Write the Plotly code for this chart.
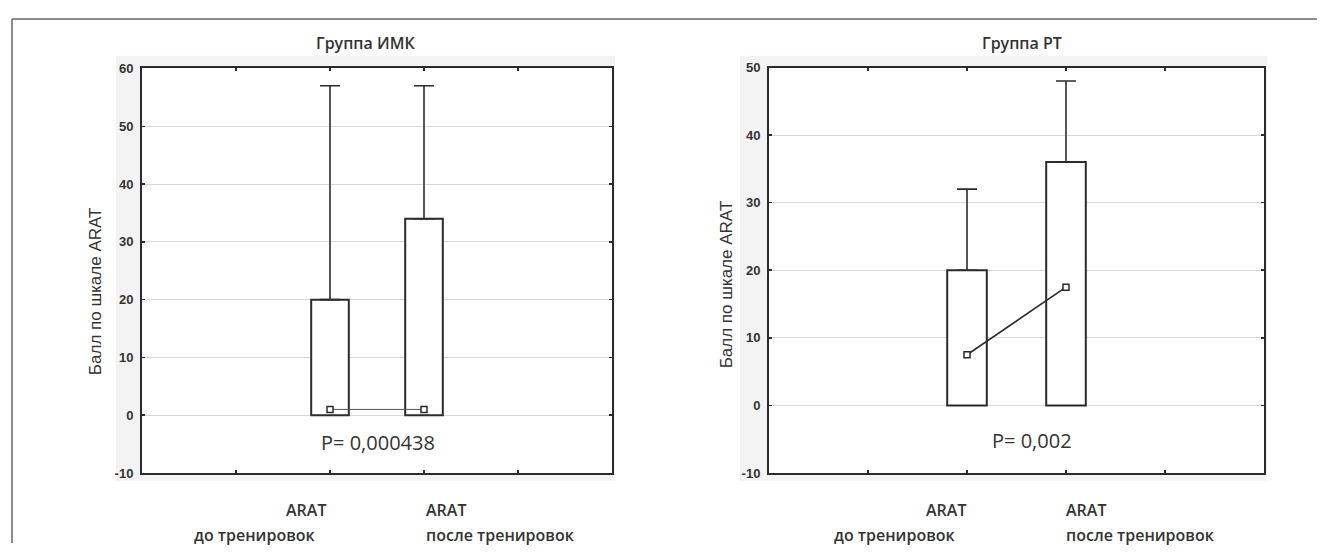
import plotly.graph_objects as go

# The page body keeps the browser's default 8px margin, so the figure is
# sized to fit the 1325x559 window inside it.
PAGE_W, PAGE_H, BODY_M = 1325, 559, 8
W, H = PAGE_W - 2 * BODY_M, PAGE_H - 2 * BODY_M

# ---- data ----
positions = [2, 3]          # category slots on a 0..5 axis
categories = ["ARAT до тренировок", "ARAT после тренировок"]
imk_q3 = [20, 34]
imk_max = [57, 57]
imk_median = [1, 1]
rt_q3 = [20, 36]
rt_max = [32, 48]
rt_median = [7.5, 17.5]
imk_yticks = [-10, 0, 10, 20, 30, 40, 50, 60]
rt_yticks = [-10, 0, 10, 20, 30, 40, 50]
titles = ["Группа ИМК", "Группа РТ"]
pvalues = ["P= 0,000438", "P= 0,002"]
ytitle = "Балл по шкале ARAT"

def px(x):
    return (x - BODY_M) / W

def py(y):
    return 1 - (y - BODY_M) / H

fig = go.Figure()
dark = "#2b2b2b"

def add_panel(xa, ya, q3, mx, med, line_col, line_w):
    fig.add_trace(go.Bar(
        x=positions, y=q3, base=[0, 0], width=0.4,
        marker=dict(color="white", line=dict(color=dark, width=2)),
        error_y=dict(type="data", symmetric=False,
                     array=[m - q for m, q in zip(mx, q3)],
                     arrayminus=[0, 0], color=dark, thickness=1.6, width=10),
        xaxis=xa, yaxis=ya, showlegend=False, hoverinfo="skip"))
    fig.add_trace(go.Scatter(
        x=positions, y=med, mode="lines+markers",
        line=dict(color=line_col, width=line_w),
        marker=dict(symbol="square", size=6, color="white",
                    line=dict(color=dark, width=1.5)),
        xaxis=xa, yaxis=ya, showlegend=False, hoverinfo="skip"))

add_panel("x", "y", imk_q3, imk_max, imk_median, "#555555", 1)
add_panel("x2", "y2", rt_q3, rt_max, rt_median, dark, 1.6)

xcommon = dict(range=[0, 5], tickvals=[1, 2, 3, 4], showticklabels=False,
               ticks="inside", ticklen=3, tickcolor=dark, tickwidth=1.5,
               showline=True, linecolor=dark, linewidth=2, mirror="ticks",
               showgrid=False, zeroline=False, fixedrange=True)
ycommon = dict(ticks="inside", ticklen=3, tickcolor=dark, tickwidth=1.5,
               showline=True, linecolor=dark, linewidth=2, mirror="ticks",
               showgrid=True, gridcolor="#d8d8d8", gridwidth=1, zeroline=False,
               tickfont=dict(family="Liberation Sans, Arial", size=13, color="#333333", weight="bold"),
               ticklabelstandoff=4, fixedrange=True)

fig.update_layout(
    width=W, height=H,
    margin=dict(l=0, r=0, t=0, b=0),
    paper_bgcolor="white", plot_bgcolor="white",
    bargap=0,
    xaxis=dict(domain=[px(142), px(612)], anchor="y", **xcommon),
    yaxis=dict(domain=[py(479), py(63)], anchor="x", range=[-10, 60],
               tickvals=imk_yticks, ticktext=[str(v) for v in imk_yticks], **ycommon),
    xaxis2=dict(domain=[px(769), px(1264)], anchor="y2", **xcommon),
    yaxis2=dict(domain=[py(479), py(62)], anchor="x2", range=[-10, 50],
                tickvals=rt_yticks, ticktext=[str(v) for v in rt_yticks], **ycommon),
)

shapes = [
    dict(type="rect", xref="paper", yref="paper", x0=px(116), x1=px(615), y0=py(487), y1=py(50),
         fillcolor="#f3f3f3", line=dict(width=0), layer="below"),
    dict(type="rect", xref="paper", yref="paper", x0=px(740), x1=px(1267), y0=py(487), y1=py(50),
         fillcolor="#f3f3f3", line=dict(width=0), layer="below"),
    dict(type="rect", xref="paper", yref="paper", x0=px(142), x1=px(612), y0=py(479), y1=py(63),
         fillcolor="white", line=dict(width=0), layer="below"),
    dict(type="rect", xref="paper", yref="paper", x0=px(769), x1=px(1264), y0=py(479), y1=py(62),
         fillcolor="white", line=dict(width=0), layer="below"),
    dict(type="line", xref="paper", yref="paper", x0=px(12), x1=1, y0=py(12), y1=py(12),
         line=dict(color="#666666", width=1.5)),
    dict(type="line", xref="paper", yref="paper", x0=px(12), x1=px(12), y0=py(12), y1=0,
         line=dict(color="#666666", width=1.5)),
]
fig.update_layout(shapes=shapes)

lab_font = dict(family="Open Sans", size=16, color="#333333", weight=600)
ann = []
def txt(x, y, s, font, xanchor="center", textangle=0):
    ann.append(dict(xref="paper", yref="paper", x=px(x), y=py(y), text=s,
                    showarrow=False, xanchor=xanchor, yanchor="middle",
                    font=font, textangle=textangle))

title_font = dict(family="Open Sans", size=16, color="#333333", weight=600)
txt(365, 37, titles[0], title_font)
txt(1022, 37, titles[1], title_font)

p_font = dict(family="Open Sans", size=20, color="#333333")
txt(378, 448, pvalues[0], p_font)
txt(1032, 446, pvalues[1], p_font)

yt_font = dict(family="Liberation Sans, Arial", size=17, color="#333333")
txt(95, 292, ytitle, yt_font, textangle=-90)
txt(726, 285, ytitle, yt_font, textangle=-90)

# x category labels
for r_arat, r_do, l_after in [(328, 317, 424), (968, 957, 1064)]:
    txt(r_arat, 517, categories[0].split(" ", 1)[0], lab_font, xanchor="right")
    txt(r_do, 543, categories[0].split(" ", 1)[1], lab_font, xanchor="right")
    txt(l_after, 517, categories[1].split(" ", 1)[0], lab_font, xanchor="left")
    txt(l_after, 543, categories[1].split(" ", 1)[1], lab_font, xanchor="left")

fig.update_layout(annotations=ann)
fig.write_html("out.html", config={"displayModeBar": False, "staticPlot": True})
